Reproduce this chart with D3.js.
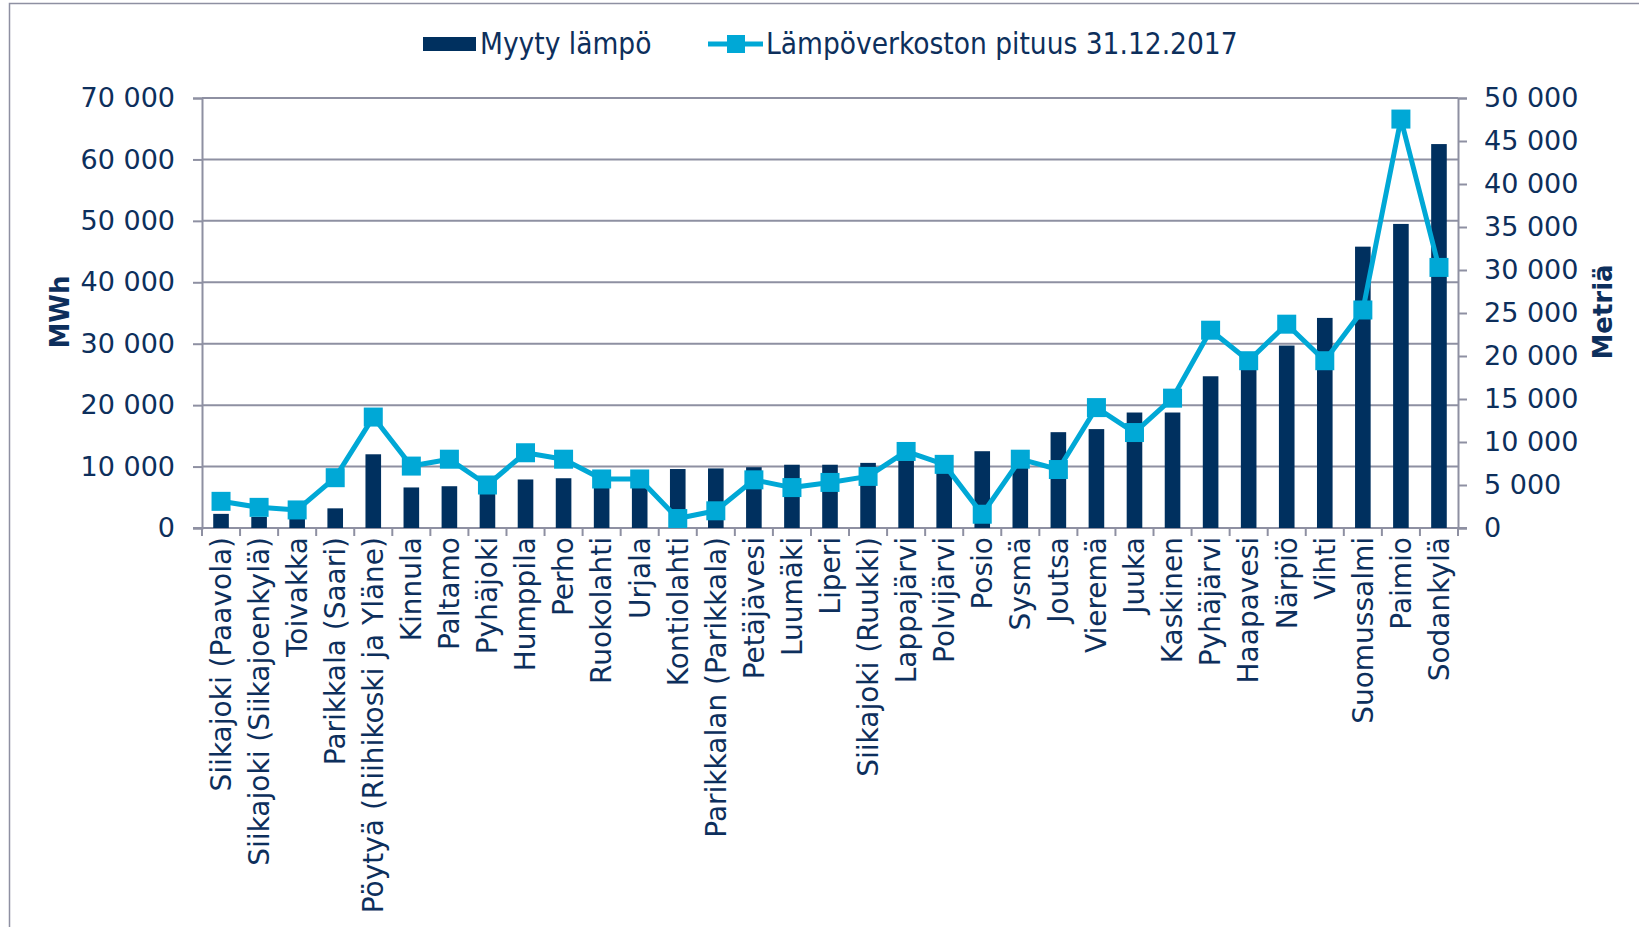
<!DOCTYPE html>
<html lang="fi">
<head>
<meta charset="utf-8">
<title>Myyty lämpö ja lämpöverkoston pituus</title>
<script src="https://d3js.org/d3.v7.min.js"></script>
<style>
  body { margin: 0; background: #fff; }
  svg text { fill: #0d2f5c; font-family: "DejaVu Sans", Verdana, sans-serif; }
  .legend text { font-family: "DejaVu Sans Condensed", "DejaVu Sans", sans-serif; font-stretch: condensed; }
</style>
</head>
<body>
<svg id="chart" width="1639" height="927"></svg>
<script>
// categories (kunnat)
var places = [
  "Siikajoki (Paavola)", "Siikajoki (Siikajoenkylä)", "Toivakka", "Parikkala (Saari)",
  "Pöytyä (Riihikoski ja Yläne)", "Kinnula", "Paltamo", "Pyhäjoki", "Humppila", "Perho",
  "Ruokolahti", "Urjala", "Kontiolahti", "Parikkalan (Parikkala)", "Petäjävesi", "Luumäki",
  "Liperi", "Siikajoki (Ruukki)", "Lappajärvi", "Polvijärvi", "Posio", "Sysmä", "Joutsa",
  "Vieremä", "Juuka", "Kaskinen", "Pyhäjärvi", "Haapavesi", "Närpiö", "Vihti",
  "Suomussalmi", "Paimio", "Sodankylä"
];
// Myyty lämpö, MWh (left axis)
var soldHeat = [
  2300, 1800, 1500, 3200, 12000, 6600, 6800, 6000, 7900, 8100,
  7000, 7500, 9600, 9700, 9900, 10300, 10300, 10600, 11000, 10000,
  12500, 10500, 15600, 16100, 18800, 18800, 24700, 26500, 29700, 34200,
  45800, 49500, 62500
];
// Lämpöverkoston pituus 31.12.2017, metriä (right axis)
var netLength = [
  3100, 2400, 2100, 5850, 12900, 7200, 8000, 5000, 8750, 8000,
  5700, 5700, 1100, 2000, 5600, 4700, 5300, 6000, 8900, 7400,
  1600, 8000, 6800, 14000, 11100, 15100, 23000, 19450, 23700, 19450,
  25350, 47550, 30300
];
var leftTicks = [0, 10000, 20000, 30000, 40000, 50000, 60000, 70000];
var rightTicks = [0, 5000, 10000, 15000, 20000, 25000, 30000, 35000, 40000, 45000, 50000];

var barColor = "#00305f", lineColor = "#00a8d6", gridColor = "#8e90a2";
var plot = { left: 202, right: 1458, top: 98, bottom: 528 };

var svg = d3.select("#chart");
var fmt = d3.formatLocale({ decimal: ",", thousands: " ", grouping: [3], currency: ["", ""] }).format(",d");

// outer frame
svg.append("rect")
  .attr("x", 9.5).attr("y", 3.5).attr("width", 1700).attr("height", 1000)
  .attr("fill", "none").attr("stroke", gridColor).attr("stroke-width", 1.5);

var x = d3.scaleBand().domain(places).range([plot.left, plot.right]).padding(0);
var yL = d3.scaleLinear().domain([0, 70000]).range([plot.bottom, plot.top]);
var yR = d3.scaleLinear().domain([0, 50000]).range([plot.bottom, plot.top]);

// gridlines
svg.append("g").selectAll("line")
  .data(leftTicks.slice(1))
  .enter().append("line")
  .attr("x1", plot.left).attr("x2", plot.right)
  .attr("y1", function(d) { return yL(d); }).attr("y2", function(d) { return yL(d); })
  .attr("stroke", gridColor).attr("stroke-width", 2);

// left axis
var gl = svg.append("g").attr("transform", "translate(" + plot.left + ",0)")
  .call(d3.axisLeft(yL).tickValues(leftTicks).tickFormat(fmt).tickSize(9).tickPadding(18));
// right axis
var gr = svg.append("g").attr("transform", "translate(" + plot.right + ",0)")
  .call(d3.axisRight(yR).tickValues(rightTicks).tickFormat(fmt).tickSize(9).tickPadding(17));
[gl, gr].forEach(function(g) {
  g.select(".domain").attr("stroke", gridColor).attr("stroke-width", 2);
  g.selectAll(".tick line").attr("stroke", gridColor).attr("stroke-width", 2);
  g.selectAll(".tick text").style("font-size", "27px").attr("fill", "#0d2f5c");
});

// bottom axis line and category ticks
svg.append("line")
  .attr("x1", plot.left - 9).attr("x2", plot.right + 9)
  .attr("y1", plot.bottom).attr("y2", plot.bottom)
  .attr("stroke", gridColor).attr("stroke-width", 2);
svg.append("g").selectAll("line")
  .data(places.concat(["end"]))
  .enter().append("line")
  .attr("x1", function(d, i) { return plot.left + i * x.step(); })
  .attr("x2", function(d, i) { return plot.left + i * x.step(); })
  .attr("y1", plot.bottom).attr("y2", plot.bottom + 8)
  .attr("stroke", gridColor).attr("stroke-width", 2);

// category labels
svg.append("g").selectAll("text")
  .data(places)
  .enter().append("text")
  .attr("transform", function(d) {
    return "translate(" + (x(d) + x.bandwidth() / 2) + "," + (plot.bottom + 9) + ") rotate(-90)";
  })
  .attr("text-anchor", "end")
  .attr("dy", "0.35em")
  .style("font-size", "28px")
  .text(function(d) { return d; });

// bars
var bw = x.bandwidth() * 0.41;
svg.append("g").selectAll("rect")
  .data(soldHeat)
  .enter().append("rect")
  .attr("x", function(d, i) { return x(places[i]) + (x.bandwidth() - bw) / 2; })
  .attr("y", function(d) { return yL(d); })
  .attr("width", bw)
  .attr("height", function(d) { return plot.bottom - yL(d); })
  .attr("fill", barColor);

// line + markers
var line = d3.line()
  .x(function(d, i) { return x(places[i]) + x.bandwidth() / 2; })
  .y(function(d) { return yR(d); });
svg.append("path")
  .datum(netLength)
  .attr("d", line)
  .attr("fill", "none")
  .attr("stroke", lineColor)
  .attr("stroke-width", 5)
  .attr("stroke-linejoin", "round");
var ms = 19;
svg.append("g").selectAll("rect")
  .data(netLength)
  .enter().append("rect")
  .attr("x", function(d, i) { return x(places[i]) + x.bandwidth() / 2 - ms / 2; })
  .attr("y", function(d) { return yR(d) - ms / 2; })
  .attr("width", ms).attr("height", ms)
  .attr("fill", lineColor);

// axis titles
svg.append("text")
  .attr("transform", "translate(60,312) rotate(-90)")
  .attr("text-anchor", "middle").attr("dy", "0.35em")
  .style("font-size", "26px").style("font-weight", "bold")
  .text("MWh");
svg.append("text")
  .attr("transform", "translate(1603,312) rotate(-90)")
  .attr("text-anchor", "middle").attr("dy", "0.35em")
  .style("font-size", "26px").style("font-weight", "bold")
  .text("Metriä");

// legend
var legend = svg.append("g").attr("class", "legend");
legend.append("rect")
  .attr("x", 423).attr("y", 37).attr("width", 53).attr("height", 14)
  .attr("fill", barColor);
legend.append("text")
  .attr("x", 480).attr("y", 44).attr("dy", "0.35em")
  .style("font-size", "29.5px")
  .text("Myyty lämpö");
legend.append("line")
  .attr("x1", 708).attr("x2", 763).attr("y1", 44).attr("y2", 44)
  .attr("stroke", lineColor).attr("stroke-width", 5);
legend.append("rect")
  .attr("x", 727).attr("y", 35).attr("width", 18).attr("height", 18)
  .attr("fill", lineColor);
legend.append("text")
  .attr("x", 766).attr("y", 44).attr("dy", "0.35em")
  .style("font-size", "29.5px")
  .text("Lämpöverkoston pituus 31.12.2017");
</script>
</body>
</html>
